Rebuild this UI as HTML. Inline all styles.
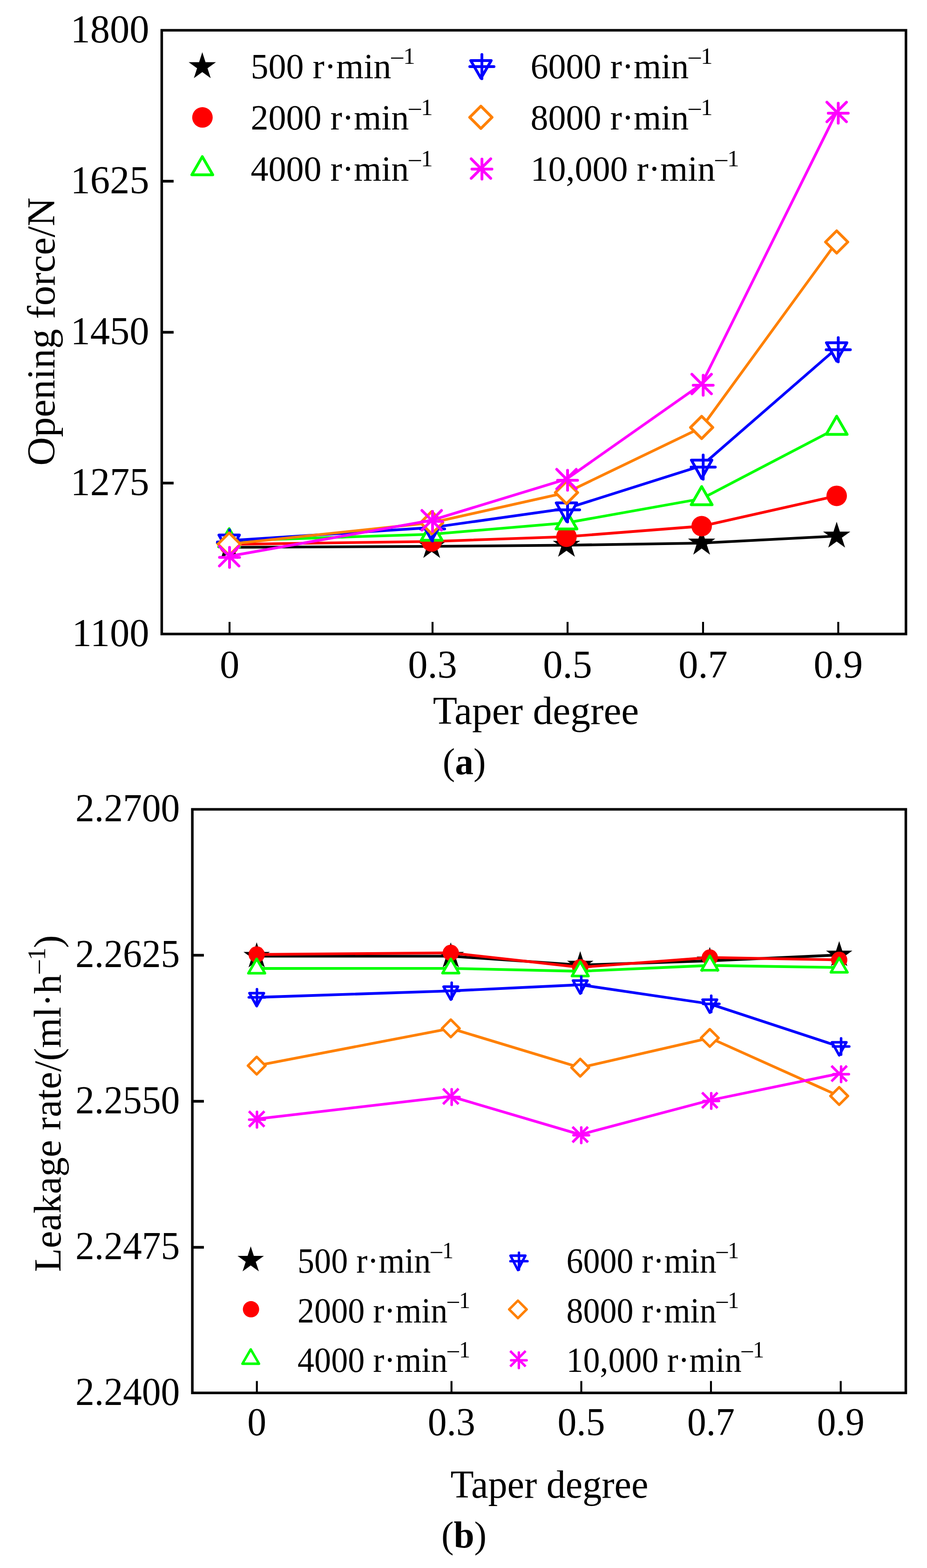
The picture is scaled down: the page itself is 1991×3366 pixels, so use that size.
<!DOCTYPE html>
<html><head><meta charset="utf-8"><title>Opening force and leakage rate versus taper degree</title>
<style>html,body{margin:0;padding:0;background:#fff;}svg{display:block;}</style>
</head><body>
<svg width="1991" height="3366" viewBox="0 0 1991 3366" font-family='"Liberation Serif", "Times New Roman", serif' fill="#000">
<rect width="1991" height="3366" fill="#fff"/>
<rect x="347.4" y="65" width="1598.4" height="1296" fill="none" stroke="#000" stroke-width="5.5"/>
<line x1="493" y1="1361" x2="493" y2="1335" stroke="#000" stroke-width="4.2"/>
<line x1="929" y1="1361" x2="929" y2="1335" stroke="#000" stroke-width="4.2"/>
<line x1="1219" y1="1361" x2="1219" y2="1335" stroke="#000" stroke-width="4.2"/>
<line x1="1510" y1="1361" x2="1510" y2="1335" stroke="#000" stroke-width="4.2"/>
<line x1="1800.4" y1="1361" x2="1800.4" y2="1335" stroke="#000" stroke-width="4.2"/>
<line x1="347.4" y1="389" x2="372.9" y2="389" stroke="#000" stroke-width="5.8"/>
<line x1="347.4" y1="713.3" x2="372.9" y2="713.3" stroke="#000" stroke-width="5.8"/>
<line x1="347.4" y1="1037" x2="372.9" y2="1037" stroke="#000" stroke-width="5.8"/>
<text x="493" y="1454.7" font-size="84.5" text-anchor="middle">0</text>
<text x="929" y="1454.7" font-size="84.5" text-anchor="middle">0.3</text>
<text x="1219" y="1454.7" font-size="84.5" text-anchor="middle">0.5</text>
<text x="1510" y="1454.7" font-size="84.5" text-anchor="middle">0.7</text>
<text x="1800.4" y="1454.7" font-size="84.5" text-anchor="middle">0.9</text>
<text x="320.4" y="90.7" font-size="84.5" text-anchor="end">1800</text>
<text x="320.4" y="414.7" font-size="84.5" text-anchor="end">1625</text>
<text x="320.4" y="739" font-size="84.5" text-anchor="end">1450</text>
<text x="320.4" y="1062.7" font-size="84.5" text-anchor="end">1275</text>
<text x="320.4" y="1386.7" font-size="84.5" text-anchor="end">1100</text>
<path d="M492.2 1175 L927.2 1172.8 L1216.7 1170.4 L1507 1165.8 L1797 1150.7" fill="none" stroke="#000000" stroke-width="5.8" stroke-linejoin="round"/>
<polygon points="492.2,1144.2 499.1,1165.5 521.5,1165.5 503.4,1178.6 510.3,1199.9 492.2,1186.8 474.1,1199.9 481,1178.6 462.9,1165.5 485.3,1165.5" fill="#000000"/>
<polygon points="927.2,1142 934.1,1163.3 956.5,1163.3 938.4,1176.4 945.3,1197.7 927.2,1184.6 909.1,1197.7 916,1176.4 897.9,1163.3 920.3,1163.3" fill="#000000"/>
<polygon points="1216.7,1139.6 1223.6,1160.9 1246,1160.9 1227.9,1174 1234.8,1195.3 1216.7,1182.2 1198.6,1195.3 1205.5,1174 1187.4,1160.9 1209.8,1160.9" fill="#000000"/>
<polygon points="1507,1135 1513.9,1156.3 1536.3,1156.3 1518.2,1169.4 1525.1,1190.7 1507,1177.6 1488.9,1190.7 1495.8,1169.4 1477.7,1156.3 1500.1,1156.3" fill="#000000"/>
<polygon points="1797,1119.9 1803.9,1141.2 1826.3,1141.2 1808.2,1154.3 1815.1,1175.6 1797,1162.5 1778.9,1175.6 1785.8,1154.3 1767.7,1141.2 1790.1,1141.2" fill="#000000"/>
<path d="M492.2 1168.6 L927.2 1162.3 L1216.7 1152.2 L1507 1129.5 L1797 1064.4" fill="none" stroke="#FF0000" stroke-width="5.8" stroke-linejoin="round"/>
<circle cx="492.2" cy="1168.6" r="22" fill="#FF0000"/>
<circle cx="927.2" cy="1162.3" r="22" fill="#FF0000"/>
<circle cx="1216.7" cy="1152.2" r="22" fill="#FF0000"/>
<circle cx="1507" cy="1129.5" r="22" fill="#FF0000"/>
<circle cx="1797" cy="1064.4" r="22" fill="#FF0000"/>
<path d="M492.2 1161 L927.2 1146.8 L1216.7 1122.4 L1507 1070.5 L1797 919.5" fill="none" stroke="#00FF00" stroke-width="5.8" stroke-linejoin="round"/>
<polygon points="492.2,1135 469.7,1174 514.7,1174" fill="#fff" stroke="#00FF00" stroke-width="6" stroke-linejoin="round"/>
<polygon points="927.2,1120.8 904.7,1159.8 949.7,1159.8" fill="#fff" stroke="#00FF00" stroke-width="6" stroke-linejoin="round"/>
<polygon points="1216.7,1096.4 1194.2,1135.4 1239.2,1135.4" fill="#fff" stroke="#00FF00" stroke-width="6" stroke-linejoin="round"/>
<polygon points="1507,1044.5 1484.5,1083.5 1529.5,1083.5" fill="#fff" stroke="#00FF00" stroke-width="6" stroke-linejoin="round"/>
<polygon points="1797,893.5 1774.5,932.5 1819.5,932.5" fill="#fff" stroke="#00FF00" stroke-width="6" stroke-linejoin="round"/>
<path d="M492.2 1160.5 L927.2 1132.5 L1216.7 1091.6 L1507 999.7 L1797 747.7" fill="none" stroke="#0000FF" stroke-width="5.8" stroke-linejoin="round"/>
<g stroke="#0000FF" stroke-width="6" stroke-linecap="round" stroke-linejoin="round"><polygon points="470.2,1148.5 514.2,1148.5 492.2,1188" fill="#fff"/><path d="M493 1137.5V1189.5M467 1163.5H519" fill="none"/></g>
<g stroke="#0000FF" stroke-width="6" stroke-linecap="round" stroke-linejoin="round"><polygon points="905.2,1120.5 949.2,1120.5 927.2,1160" fill="#fff"/><path d="M929 1109.5V1161.5M903 1135.5H955" fill="none"/></g>
<g stroke="#0000FF" stroke-width="6" stroke-linecap="round" stroke-linejoin="round"><polygon points="1194.7,1079.6 1238.7,1079.6 1216.7,1119.1" fill="#fff"/><path d="M1219 1068.6V1120.6M1193 1094.6H1245" fill="none"/></g>
<g stroke="#0000FF" stroke-width="6" stroke-linecap="round" stroke-linejoin="round"><polygon points="1485,987.7 1529,987.7 1507,1027.2" fill="#fff"/><path d="M1510.3 976.7V1028.7M1484.3 1002.7H1536.3" fill="none"/></g>
<g stroke="#0000FF" stroke-width="6" stroke-linecap="round" stroke-linejoin="round"><polygon points="1775,735.7 1819,735.7 1797,775.2" fill="#fff"/><path d="M1800.4 724.7V776.7M1774.4 750.7H1826.4" fill="none"/></g>
<path d="M492.2 1168 L927.2 1122.2 L1216.7 1057.3 L1507 917.6 L1797 519.5" fill="none" stroke="#FF8000" stroke-width="5.8" stroke-linejoin="round"/>
<polygon points="492.2,1144 516.2,1168 492.2,1192 468.2,1168" fill="#fff" stroke="#FF8000" stroke-width="6" stroke-linejoin="round"/>
<polygon points="927.2,1098.2 951.2,1122.2 927.2,1146.2 903.2,1122.2" fill="#fff" stroke="#FF8000" stroke-width="6" stroke-linejoin="round"/>
<polygon points="1216.7,1033.3 1240.7,1057.3 1216.7,1081.3 1192.7,1057.3" fill="#fff" stroke="#FF8000" stroke-width="6" stroke-linejoin="round"/>
<polygon points="1507,893.6 1531,917.6 1507,941.6 1483,917.6" fill="#fff" stroke="#FF8000" stroke-width="6" stroke-linejoin="round"/>
<polygon points="1797,495.5 1821,519.5 1797,543.5 1773,519.5" fill="#fff" stroke="#FF8000" stroke-width="6" stroke-linejoin="round"/>
<path d="M492.2 1194 L927.2 1116.8 L1216.7 1028.5 L1507 824.4 L1797 240.4" fill="none" stroke="#FF00FF" stroke-width="5.8" stroke-linejoin="round"/>
<g fill="none" stroke="#FF00FF" stroke-width="6"><path d="M493 1175V1218M471.5 1196.5H514.5" stroke-linecap="round"/><path d="M471.2 1173L513.2 1215M471.2 1215L513.2 1173" stroke-linecap="round"/></g>
<g fill="none" stroke="#FF00FF" stroke-width="6"><path d="M929 1097.8V1140.8M907.5 1119.3H950.5" stroke-linecap="round"/><path d="M906.2 1095.8L948.2 1137.8M906.2 1137.8L948.2 1095.8" stroke-linecap="round"/></g>
<g fill="none" stroke="#FF00FF" stroke-width="6"><path d="M1219 1009.5V1052.5M1197.5 1031H1240.5" stroke-linecap="round"/><path d="M1195.7 1007.5L1237.7 1049.5M1195.7 1049.5L1237.7 1007.5" stroke-linecap="round"/></g>
<g fill="none" stroke="#FF00FF" stroke-width="6"><path d="M1510.3 805.4V848.4M1488.8 826.9H1531.8" stroke-linecap="round"/><path d="M1486 803.4L1528 845.4M1486 845.4L1528 803.4" stroke-linecap="round"/></g>
<g fill="none" stroke="#FF00FF" stroke-width="6"><path d="M1800.4 221.4V264.4M1778.9 242.9H1821.9" stroke-linecap="round"/><path d="M1776 219.4L1818 261.4M1776 261.4L1818 219.4" stroke-linecap="round"/></g>
<rect x="413.1" y="1737.4" width="1532.4" height="1252.7" fill="none" stroke="#000" stroke-width="5.5"/>
<line x1="551.7" y1="2990.1" x2="551.7" y2="2964.6" stroke="#000" stroke-width="4.2"/>
<line x1="969.7" y1="2990.1" x2="969.7" y2="2964.6" stroke="#000" stroke-width="4.2"/>
<line x1="1248.5" y1="2990.1" x2="1248.5" y2="2964.6" stroke="#000" stroke-width="4.2"/>
<line x1="1527" y1="2990.1" x2="1527" y2="2964.6" stroke="#000" stroke-width="4.2"/>
<line x1="1805.7" y1="2990.1" x2="1805.7" y2="2964.6" stroke="#000" stroke-width="4.2"/>
<line x1="413.1" y1="2050.6" x2="437.9" y2="2050.6" stroke="#000" stroke-width="5.8"/>
<line x1="413.1" y1="2364.1" x2="437.9" y2="2364.1" stroke="#000" stroke-width="5.8"/>
<line x1="413.1" y1="2677.6" x2="437.9" y2="2677.6" stroke="#000" stroke-width="5.8"/>
<text transform="translate(551.7 3081.3) scale(0.965 1)" font-size="84.5" text-anchor="middle">0</text>
<text transform="translate(969.7 3081.3) scale(0.965 1)" font-size="84.5" text-anchor="middle">0.3</text>
<text transform="translate(1248.5 3081.3) scale(0.965 1)" font-size="84.5" text-anchor="middle">0.5</text>
<text transform="translate(1527 3081.3) scale(0.965 1)" font-size="84.5" text-anchor="middle">0.7</text>
<text transform="translate(1805.7 3081.3) scale(0.965 1)" font-size="84.5" text-anchor="middle">0.9</text>
<text transform="translate(386.3 1763.2) scale(0.965 1)" font-size="84.5" text-anchor="end">2.2700</text>
<text transform="translate(386.3 2076.3) scale(0.965 1)" font-size="84.5" text-anchor="end">2.2625</text>
<text transform="translate(386.3 2389.8) scale(0.965 1)" font-size="84.5" text-anchor="end">2.2550</text>
<text transform="translate(386.3 2703.3) scale(0.965 1)" font-size="84.5" text-anchor="end">2.2475</text>
<text transform="translate(386.3 3015.9) scale(0.965 1)" font-size="84.5" text-anchor="end">2.2400</text>
<path d="M551.3 2052.6 L968.2 2052.7 L1246.2 2071.6 L1524.5 2062.6 L1802.4 2050" fill="none" stroke="#000000" stroke-width="5.8" stroke-linejoin="round"/>
<polygon points="551.3,2022.8 558,2043.4 579.6,2043.4 562.1,2056.1 568.8,2076.7 551.3,2064 533.8,2076.7 540.5,2056.1 523,2043.4 544.6,2043.4" fill="#000000"/>
<polygon points="968.2,2022.9 974.9,2043.5 996.5,2043.5 979,2056.2 985.7,2076.8 968.2,2064.1 950.7,2076.8 957.4,2056.2 939.9,2043.5 961.5,2043.5" fill="#000000"/>
<polygon points="1246.2,2041.8 1252.9,2062.4 1274.5,2062.4 1257,2075.1 1263.7,2095.7 1246.2,2083 1228.7,2095.7 1235.4,2075.1 1217.9,2062.4 1239.5,2062.4" fill="#000000"/>
<polygon points="1524.5,2032.8 1531.2,2053.4 1552.8,2053.4 1535.3,2066.1 1542,2086.7 1524.5,2074 1507,2086.7 1513.7,2066.1 1496.2,2053.4 1517.8,2053.4" fill="#000000"/>
<polygon points="1802.4,2020.2 1809.1,2040.8 1830.7,2040.8 1813.2,2053.5 1819.9,2074.1 1802.4,2061.4 1784.9,2074.1 1791.6,2053.5 1774.1,2040.8 1795.7,2040.8" fill="#000000"/>
<path d="M551.3 2049 L968.2 2045.5 L1246.2 2076.5 L1524.5 2055.5 L1802.4 2060.5" fill="none" stroke="#FF0000" stroke-width="5.8" stroke-linejoin="round"/>
<circle cx="551.3" cy="2049" r="17.5" fill="#FF0000"/>
<circle cx="968.2" cy="2045.5" r="17.5" fill="#FF0000"/>
<circle cx="1246.2" cy="2076.5" r="17.5" fill="#FF0000"/>
<circle cx="1524.5" cy="2055.5" r="17.5" fill="#FF0000"/>
<circle cx="1802.4" cy="2060.5" r="17.5" fill="#FF0000"/>
<path d="M551.3 2079 L968.2 2078.8 L1246.2 2085 L1524.5 2072.5 L1802.4 2077" fill="none" stroke="#00FF00" stroke-width="5.8" stroke-linejoin="round"/>
<polygon points="551.3,2058.5 533.5,2089.3 569.1,2089.3" fill="#fff" stroke="#00FF00" stroke-width="5.5" stroke-linejoin="round"/>
<polygon points="968.2,2058.3 950.4,2089.1 986,2089.1" fill="#fff" stroke="#00FF00" stroke-width="5.5" stroke-linejoin="round"/>
<polygon points="1246.2,2064.5 1228.4,2095.3 1264,2095.3" fill="#fff" stroke="#00FF00" stroke-width="5.5" stroke-linejoin="round"/>
<polygon points="1524.5,2052 1506.7,2082.8 1542.3,2082.8" fill="#fff" stroke="#00FF00" stroke-width="5.5" stroke-linejoin="round"/>
<polygon points="1802.4,2056.5 1784.6,2087.3 1820.2,2087.3" fill="#fff" stroke="#00FF00" stroke-width="5.5" stroke-linejoin="round"/>
<path d="M551.3 2141 L968.2 2127.1 L1246.2 2114 L1524.5 2155 L1802.4 2246.5" fill="none" stroke="#0000FF" stroke-width="5.8" stroke-linejoin="round"/>
<g stroke="#0000FF" stroke-width="5.5" stroke-linecap="round" stroke-linejoin="round"><polygon points="535.8,2132 566.8,2132 551.3,2159.8" fill="#fff"/><path d="M551.9 2123.5V2158.5M534.4 2141H569.4" fill="none"/></g>
<g stroke="#0000FF" stroke-width="5.5" stroke-linecap="round" stroke-linejoin="round"><polygon points="952.7,2118.1 983.7,2118.1 968.2,2145.9" fill="#fff"/><path d="M970.1 2109.6V2144.6M952.6 2127.1H987.6" fill="none"/></g>
<g stroke="#0000FF" stroke-width="5.5" stroke-linecap="round" stroke-linejoin="round"><polygon points="1230.7,2105 1261.7,2105 1246.2,2132.8" fill="#fff"/><path d="M1248.4 2096.5V2131.5M1230.9 2114H1265.9" fill="none"/></g>
<g stroke="#0000FF" stroke-width="5.5" stroke-linecap="round" stroke-linejoin="round"><polygon points="1509,2146 1540,2146 1524.5,2173.8" fill="#fff"/><path d="M1527.6 2137.5V2172.5M1510.1 2155H1545.1" fill="none"/></g>
<g stroke="#0000FF" stroke-width="5.5" stroke-linecap="round" stroke-linejoin="round"><polygon points="1786.9,2237.5 1817.9,2237.5 1802.4,2265.3" fill="#fff"/><path d="M1806.5 2229V2264M1789 2246.5H1824" fill="none"/></g>
<path d="M551.3 2287.6 L968.2 2207.6 L1246.2 2291.9 L1524.5 2228.1 L1802.4 2352.8" fill="none" stroke="#FF8000" stroke-width="5.8" stroke-linejoin="round"/>
<polygon points="551.3,2268.8 570.1,2287.6 551.3,2306.4 532.5,2287.6" fill="#fff" stroke="#FF8000" stroke-width="5.5" stroke-linejoin="round"/>
<polygon points="968.2,2188.8 987,2207.6 968.2,2226.4 949.4,2207.6" fill="#fff" stroke="#FF8000" stroke-width="5.5" stroke-linejoin="round"/>
<polygon points="1246.2,2273.1 1265,2291.9 1246.2,2310.7 1227.4,2291.9" fill="#fff" stroke="#FF8000" stroke-width="5.5" stroke-linejoin="round"/>
<polygon points="1524.5,2209.3 1543.3,2228.1 1524.5,2246.9 1505.7,2228.1" fill="#fff" stroke="#FF8000" stroke-width="5.5" stroke-linejoin="round"/>
<polygon points="1802.4,2334 1821.2,2352.8 1802.4,2371.6 1783.6,2352.8" fill="#fff" stroke="#FF8000" stroke-width="5.5" stroke-linejoin="round"/>
<path d="M551.3 2402.1 L968.2 2353.6 L1246.2 2435.6 L1524.5 2362 L1802.4 2304.7" fill="none" stroke="#FF00FF" stroke-width="5.8" stroke-linejoin="round"/>
<g fill="none" stroke="#FF00FF" stroke-width="5.5"><path d="M551.9 2386.8V2420.2M535.2 2403.5H568.6" stroke-linecap="round"/><path d="M536.6 2387.4L566 2416.8M536.6 2416.8L566 2387.4" stroke-linecap="square"/></g>
<g fill="none" stroke="#FF00FF" stroke-width="5.5"><path d="M970.1 2338.3V2371.7M953.4 2355H986.8" stroke-linecap="round"/><path d="M953.5 2338.9L982.9 2368.3M953.5 2368.3L982.9 2338.9" stroke-linecap="square"/></g>
<g fill="none" stroke="#FF00FF" stroke-width="5.5"><path d="M1248.4 2420.3V2453.7M1231.7 2437H1265.1" stroke-linecap="round"/><path d="M1231.5 2420.9L1260.9 2450.3M1231.5 2450.3L1260.9 2420.9" stroke-linecap="square"/></g>
<g fill="none" stroke="#FF00FF" stroke-width="5.5"><path d="M1527.6 2346.7V2380.1M1510.9 2363.4H1544.3" stroke-linecap="round"/><path d="M1509.8 2347.3L1539.2 2376.7M1509.8 2376.7L1539.2 2347.3" stroke-linecap="square"/></g>
<g fill="none" stroke="#FF00FF" stroke-width="5.5"><path d="M1806.5 2289.4V2322.8M1789.8 2306.1H1823.2" stroke-linecap="round"/><path d="M1787.7 2290L1817.1 2319.4M1787.7 2319.4L1817.1 2290" stroke-linecap="square"/></g>
<polygon points="434.5,112.1 441.4,133.4 463.8,133.4 445.7,146.5 452.6,167.8 434.5,154.7 416.4,167.8 423.3,146.5 405.2,133.4 427.6,133.4" fill="#000000"/>
<circle cx="434.8" cy="252.1" r="22" fill="#FF0000"/>
<polygon points="434.5,336.2 412,375.2 457,375.2" fill="#fff" stroke="#00FF00" stroke-width="6" stroke-linejoin="round"/>
<g stroke="#0000FF" stroke-width="6" stroke-linecap="round" stroke-linejoin="round"><polygon points="1011,130 1055,130 1033,168" fill="#fff"/><path d="M1035 117V169M1009 143H1061" fill="none"/></g>
<polygon points="1032.8,227.9 1056.8,251.9 1032.8,275.9 1008.8,251.9" fill="#fff" stroke="#FF8000" stroke-width="6" stroke-linejoin="round"/>
<g fill="none" stroke="#FF00FF" stroke-width="6"><path d="M1035.1 341.4V384.4M1013.6 362.9H1056.6" stroke-linecap="round"/><path d="M1012 340.9L1054 382.9M1012 382.9L1054 340.9" stroke-linecap="round"/></g>
<text x="538.5" y="167.8" font-size="76">500 r·min<tspan font-size="51.5" dy="-31">–1</tspan></text>
<text x="538.5" y="277.9" font-size="76">2000 r·min<tspan font-size="51.5" dy="-31">–1</tspan></text>
<text x="538.5" y="387.9" font-size="76">4000 r·min<tspan font-size="51.5" dy="-31">–1</tspan></text>
<text x="1139.5" y="167.8" font-size="76">6000 r·min<tspan font-size="51.5" dy="-31">–1</tspan></text>
<text x="1139.5" y="277.9" font-size="76">8000 r·min<tspan font-size="51.5" dy="-31">–1</tspan></text>
<text x="1139.5" y="387.9" font-size="76">10,000 r·min<tspan font-size="51.5" dy="-31">–1</tspan></text>
<polygon points="538.5,2675.4 545.2,2696 566.8,2696 549.3,2708.7 556,2729.3 538.5,2716.6 521,2729.3 527.7,2708.7 510.2,2696 531.8,2696" fill="#000000"/>
<circle cx="539.1" cy="2810.6" r="17.5" fill="#FF0000"/>
<polygon points="538.5,2896.7 520.7,2927.5 556.3,2927.5" fill="#fff" stroke="#00FF00" stroke-width="5.3" stroke-linejoin="round"/>
<g stroke="#0000FF" stroke-width="5.3" stroke-linecap="round" stroke-linejoin="round"><polygon points="1096.4,2695.5 1128.4,2695.5 1112.4,2726.4" fill="#fff"/><path d="M1114.6 2689.1V2725.7M1096.3 2707.4H1132.9" fill="none"/></g>
<polygon points="1112.4,2792 1131.2,2810.8 1112.4,2829.6 1093.6,2810.8" fill="#fff" stroke="#FF8000" stroke-width="5.3" stroke-linejoin="round"/>
<g fill="none" stroke="#FF00FF" stroke-width="5.3"><path d="M1114.4 2903.4V2936.8M1097.7 2920.1H1131.1" stroke-linecap="round"/><path d="M1097.7 2902.1L1127.1 2931.5M1097.7 2931.5L1127.1 2902.1" stroke-linecap="square"/></g>
<text transform="translate(639.1 2731.7) scale(0.948 1)" font-size="76">500 r·min<tspan font-size="51.5" dy="-31">–1</tspan></text>
<text transform="translate(639.1 2838.7) scale(0.948 1)" font-size="76">2000 r·min<tspan font-size="51.5" dy="-31">–1</tspan></text>
<text transform="translate(639.1 2944.5) scale(0.948 1)" font-size="76">4000 r·min<tspan font-size="51.5" dy="-31">–1</tspan></text>
<text transform="translate(1216.5 2731.7) scale(0.948 1)" font-size="76">6000 r·min<tspan font-size="51.5" dy="-31">–1</tspan></text>
<text transform="translate(1216.5 2838.7) scale(0.948 1)" font-size="76">8000 r·min<tspan font-size="51.5" dy="-31">–1</tspan></text>
<text transform="translate(1216.5 2944.5) scale(0.948 1)" font-size="76">10,000 r·min<tspan font-size="51.5" dy="-31">–1</tspan></text>
<text x="1151" y="1554.3" font-size="85.5" text-anchor="middle">Taper degree</text>
<text transform="translate(1180 3215.3) scale(0.96 1)" font-size="85.5" text-anchor="middle">Taper degree</text>
<text transform="translate(117 712) rotate(-90)" font-size="85.3" text-anchor="middle">Opening force/N</text>
<text transform="translate(130.3 2730.5) rotate(-90) scale(1 0.978)" font-size="83.7">Leakage rate/(ml·h<tspan font-size="56" dy="-34.2" dx="2">–1</tspan><tspan dy="34.2" dx="-1.5">)</tspan></text>
<text x="997" y="1662.2" font-size="79.5" text-anchor="middle">(<tspan font-weight="bold">a</tspan>)</text>
<text x="996.5" y="3321.6" font-size="79.5" text-anchor="middle">(<tspan font-weight="bold">b</tspan>)</text>
</svg>
</body></html>
